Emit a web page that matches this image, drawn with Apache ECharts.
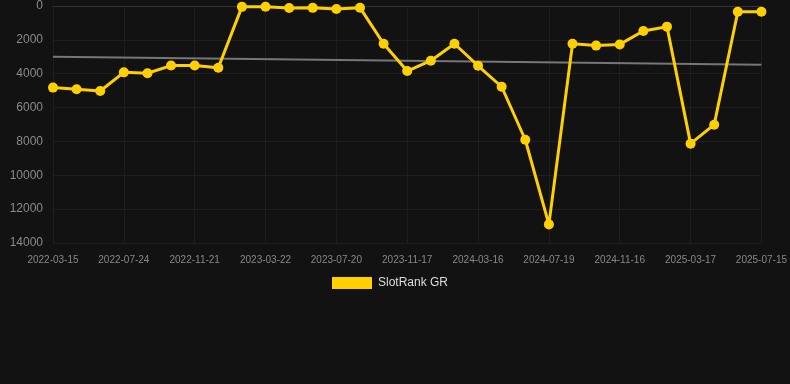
<!DOCTYPE html>
<html>
<head>
<meta charset="utf-8">
<script src="https://cdn.jsdelivr.net/npm/echarts@6/dist/echarts.min.js"></script>
<style>
html,body{margin:0;padding:0;background:#121212;}
#chart{width:790px;height:384px;}
</style>
</head>
<body>
<div id="chart"></div>
<script>
var categories = [
  '2022-03-15','2022-04-28','2022-06-10','2022-07-24','2022-09-02','2022-10-12',
  '2022-11-21','2022-12-31','2023-02-10','2023-03-22','2023-05-01','2023-06-10',
  '2023-07-20','2023-08-29','2023-10-08','2023-11-17','2023-12-27','2024-02-05',
  '2024-03-16','2024-04-27','2024-06-08','2024-07-19','2024-08-28','2024-10-07',
  '2024-11-16','2024-12-26','2025-02-05','2025-03-17','2025-04-26','2025-06-05',
  '2025-07-15'
];
var rankValues = [
  4820, 4920, 5020, 3920, 3970, 3520, 3520, 3650, 50, 40, 120, 110,
  180, 100, 2230, 3840, 3230, 2230, 3530, 4770, 7900, 12900, 2230, 2340,
  2270, 1480, 1220, 8130, 7010, 340, 340
];
var trendEnds = [3000, 3470];
var seriesName = 'SlotRank GR';

var trendData = categories.map(function(c, i){
  if (i === 0) return trendEnds[0];
  if (i === categories.length - 1) return trendEnds[1];
  return null;
});

var chart = echarts.init(document.getElementById('chart'));
chart.setOption({
  backgroundColor: '#121212',
  animation: false,
  grid: {left: 53, right: 28, top: 6, bottom: 141},
  legend: {
    top: 277,
    left: 332,
    padding: 0,
    itemWidth: 40,
    itemHeight: 12,
    itemGap: 10,
    icon: 'rect',
    data: [seriesName],
    textStyle: {color: '#dddddd', fontSize: 12, padding: [0, 0, 0, 1], fontFamily: 'Liberation Sans, Arial, sans-serif'}
  },
  xAxis: {
    type: 'category',
    data: categories,
    boundaryGap: false,
    axisLine: {show: true, lineStyle: {color: '#333333'}},
    axisTick: {show: false},
    axisLabel: {color: '#888888', fontSize: 10, interval: 2, margin: 12, fontFamily: 'Liberation Sans, Arial, sans-serif'},
    splitLine: {show: true, interval: 2, lineStyle: {color: '#1e1e1e'}}
  },
  yAxis: {
    type: 'value',
    inverse: true,
    min: 0,
    max: 14000,
    interval: 2000,
    axisLine: {show: false},
    axisTick: {show: false},
    axisLabel: {color: '#8a8a8a', fontSize: 12, margin: 10, formatter: function(v){ return String(v); }, fontFamily: 'Liberation Sans, Arial, sans-serif'},
    splitLine: {show: true, lineStyle: {color: '#1e1e1e'}}
  },
  series: [
    {
      name: seriesName,
      type: 'line',
      data: rankValues,
      symbol: 'circle',
      symbolSize: 10,
      lineStyle: {color: '#FFD000', width: 3},
      itemStyle: {color: '#FFD000'},
      z: 3
    },
    {
      name: 'trend',
      type: 'line',
      data: trendData,
      connectNulls: true,
      symbol: 'none',
      lineStyle: {color: '#777777', width: 2},
      itemStyle: {color: '#777777'},
      z: 2
    }
  ]
});
</script>
</body>
</html>
